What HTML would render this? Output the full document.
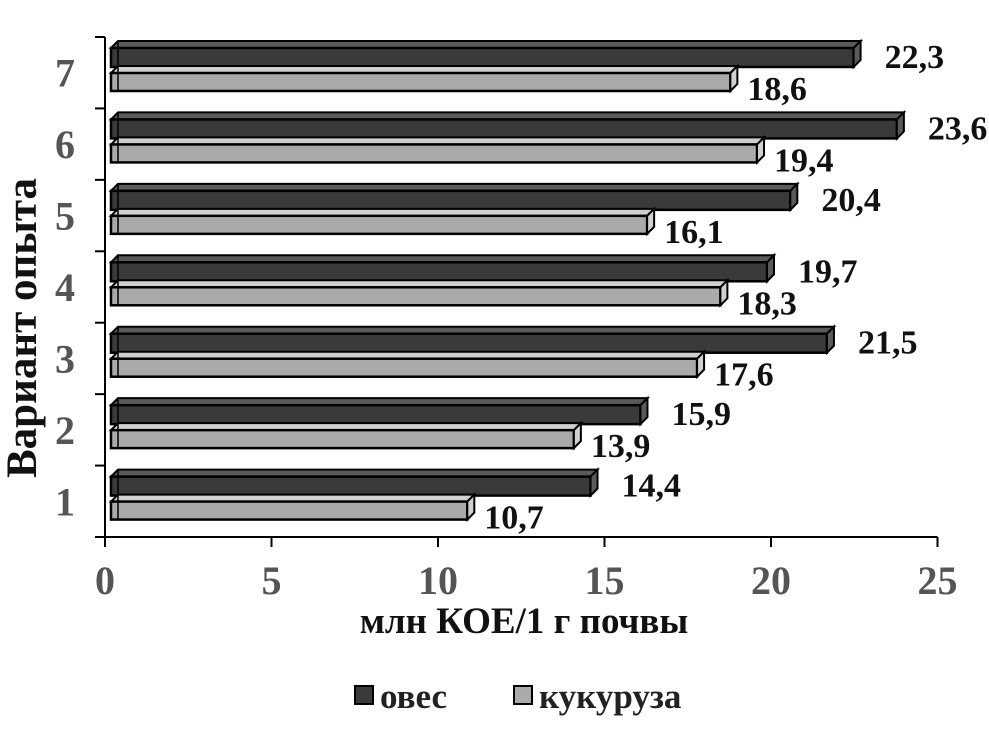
<!DOCTYPE html>
<html><head><meta charset="utf-8"><style>
body{margin:0;background:#fff}
svg text{font-family:"Liberation Serif",serif;font-weight:bold}
</style></head><body>
<svg width="989" height="729" xmlns="http://www.w3.org/2000/svg">
<g id="bars"></g>
<g id="axes"></g>
<text x="524" y="633" font-size="37" text-anchor="middle" fill="#111">млн КОЕ/1 г почвы</text>
<text transform="translate(36,328) rotate(-90)" font-size="43" text-anchor="middle" fill="#111">Вариант опыта</text>
<g>
<g><rect x="355" y="686" width="18" height="18" fill="#3a3a3a" stroke="#000" stroke-width="2"/><text x="380" y="708" font-size="35" fill="#222">овес</text></g>
<g><rect x="514" y="686" width="18" height="18" fill="#aaa" stroke="#000" stroke-width="2"/><text x="539" y="708" font-size="35" fill="#222">кукуруза</text></g>
</g>
</svg>
<script>
const categories=["1","2","3","4","5","6","7"];
const oves=[14.4,15.9,21.5,19.7,20.4,23.6,22.3];
const kukuruza=[10.7,13.9,17.6,18.3,16.1,19.4,18.6];
const xTicks=[0,5,10,15,20,25];
const NS="http://www.w3.org/2000/svg";
const X0=105,SC=33.3,YB=537,BAND=71.43,D=7;
const xs=v=>X0+v*SC;
const bandTop=i=>YB-(i+1)*BAND;
function mk(tag,attrs,parent){const e=document.createElementNS(NS,tag);for(const k in attrs)e.setAttribute(k,attrs[k]);parent.appendChild(e);return e;}
const bars=document.getElementById('bars'),axes=document.getElementById('axes');
mk('line',{x1:X0,y1:37,x2:X0,y2:YB,stroke:'#000','stroke-width':2},axes);
mk('line',{x1:X0,y1:YB,x2:xs(25),y2:YB,stroke:'#000','stroke-width':2},axes);
for(let i=0;i<=categories.length;i++){const y=YB-i*BAND;mk('line',{x1:X0-10,y1:y,x2:X0,y2:y,stroke:'#000','stroke-width':2},axes);}
xTicks.forEach(t=>{mk('line',{x1:xs(t),y1:YB,x2:xs(t),y2:YB+10,stroke:'#000','stroke-width':2},axes);
const tx=mk('text',{x:xs(t),y:YB+57,'font-size':40,'text-anchor':'middle',fill:'#555'},axes);tx.textContent=t;
});
function bar(v,y,h,fill,side,name){
  const g=mk('g',{},bars);
  
  
  const x1=X0+6,x2=xs(v)+6;
  mk('polygon',{points:`${x1},${y+D} ${x1+D},${y} ${x2+D},${y} ${x2},${y+D}`,fill:side,stroke:'#000','stroke-width':2},g);
  mk('rect',{x:x1,y:y+D,width:x2-x1,height:h,fill:fill,stroke:'#000','stroke-width':2.5},g);
  mk('polygon',{points:`${x2},${y+D} ${x2+D},${y} ${x2+D},${y+h} ${x2},${y+D+h}`,fill:side,stroke:'#000','stroke-width':2},g);
  mk('line',{x1:x1+D,y1:y,x2:x1+D,y2:y+D+h-1,stroke:'#000','stroke-width':1.5},g);
  return x2+D;
}
categories.forEach((c,i)=>{
  const t=bandTop(i);
  const e1=bar(oves[i],t+4,19,'#3a3a3a','#5a5a5a','bar-oves-'+c);
  const l1=mk('text',{x:e1+24,y:t+31,'font-size':34,fill:'#111'},bars);l1.textContent=String(oves[i]).replace('.',',');
  
  const e2=bar(kukuruza[i],t+29,18,'#aaa','#d0d0d0','bar-kukuruza-'+c);
  const l2=mk('text',{x:e2+10,y:t+63,'font-size':34,fill:'#111'},bars);l2.textContent=String(kukuruza[i]).replace('.',',');
  
  const yl=mk('text',{x:65,y:t+BAND/2+14,'font-size':40,'text-anchor':'middle',fill:'#555'},axes);yl.textContent=c;
  
});
</script>
</body></html>
